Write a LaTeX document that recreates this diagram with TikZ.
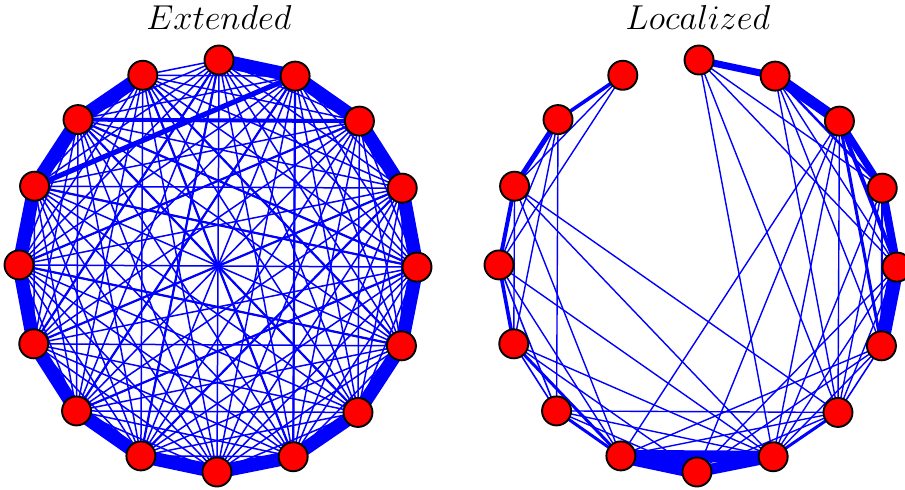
\documentclass[tikz,border=0pt]{standalone}
\pgfdeclarelayer{bg}
\pgfsetlayers{bg,main}
\begin{document}
\begin{tikzpicture}[x=0.5pt,y=-0.5pt,
  vert/.style={circle,draw=black,fill=red,line width=0.95pt,minimum size=14.5pt,inner sep=0pt},
  te/.style={draw=blue,line width=0.7pt},
  le/.style={draw=blue,line width=0.75pt},
  we/.style={draw=blue,line width=#1}]
\useasboundingbox (0,0) rectangle (905,489);
\node[font=\fontsize{18.5}{22}\selectfont] (t1) at (219,17) {$Extended$};
\node[font=\fontsize{18.5}{22}\selectfont] (t2) at (698,17) {$Localized$};
\foreach \i in {0,...,15}{
  \node[vert] (L\i) at ({218+199*sin(22.5*\i+0.3)},{266-206*cos(22.5*\i+0.3)}) {};
  \node[vert] (R\i) at ({698+199*sin(22.5*\i+0.3)},{266-206*cos(22.5*\i+0.3)}) {};
}
\begin{pgfonlayer}{bg}
% left: all pairs
\foreach \i in {0,...,14}{
  \pgfmathtruncatemacro\s{\i+1}
  \foreach \j in {\s,...,15}{
    \draw[le] (L\i.center) -- (L\j.center);
  }
}
\foreach \a/\b in {0/1,1/2,2/3,3/4,4/5,5/6,6/7,7/8,8/9,9/10,10/11,11/12,12/13,13/14,14/15}{
  \draw[we=6.8pt] (L\a.center) -- (L\b.center);
}
\foreach \a/\b in {15/5,14/6,1/10,0/11,13/4,11/3,15/7,2/12,3/9,5/12,0/9,1/7,10/4,14/4}{
  \draw[we=1.1pt] (L\a.center) -- (L\b.center);
}
\draw[we=2.6pt] (L13.center) -- (L1.center);
\draw[we=2pt] (L14.center) -- (L2.center);
% right
\foreach \a/\b/\w in {0/1/3.5pt,1/2/5.5pt,2/3/3.5pt,3/4/4pt,4/5/7pt,7/8/5.5pt,8/9/7pt,9/7/6pt,
  1/3/1.2pt,2/4/2pt,2/5/1.5pt,3/5/1pt,5/6/0.8pt,6/7/1.5pt,9/10/1.5pt,9/11/1.5pt,10/11/0.8pt,
  11/12/1.8pt,12/13/2pt,13/14/2.5pt,14/15/1.8pt,12/10/0.8pt}{
  \draw[we=\w] (R\a.center) -- (R\b.center);
}
\foreach \a/\b in {15/13,15/12,14/12,14/11,14/10,13/11,13/9,13/7,2/6,10/6,0/6,0/7,0/3,0/4,
  1/5,1/6,1/4,2/8,2/9,7/5,7/4,7/3,7/2,6/9,6/8,6/4,6/3,6/13,12/9,12/7,11/7,11/8,10/8,10/7,
  9/5,8/5,8/4}{
  \draw[te] (R\a.center) -- (R\b.center);
}
\end{pgfonlayer}
\end{tikzpicture}
\end{document}
